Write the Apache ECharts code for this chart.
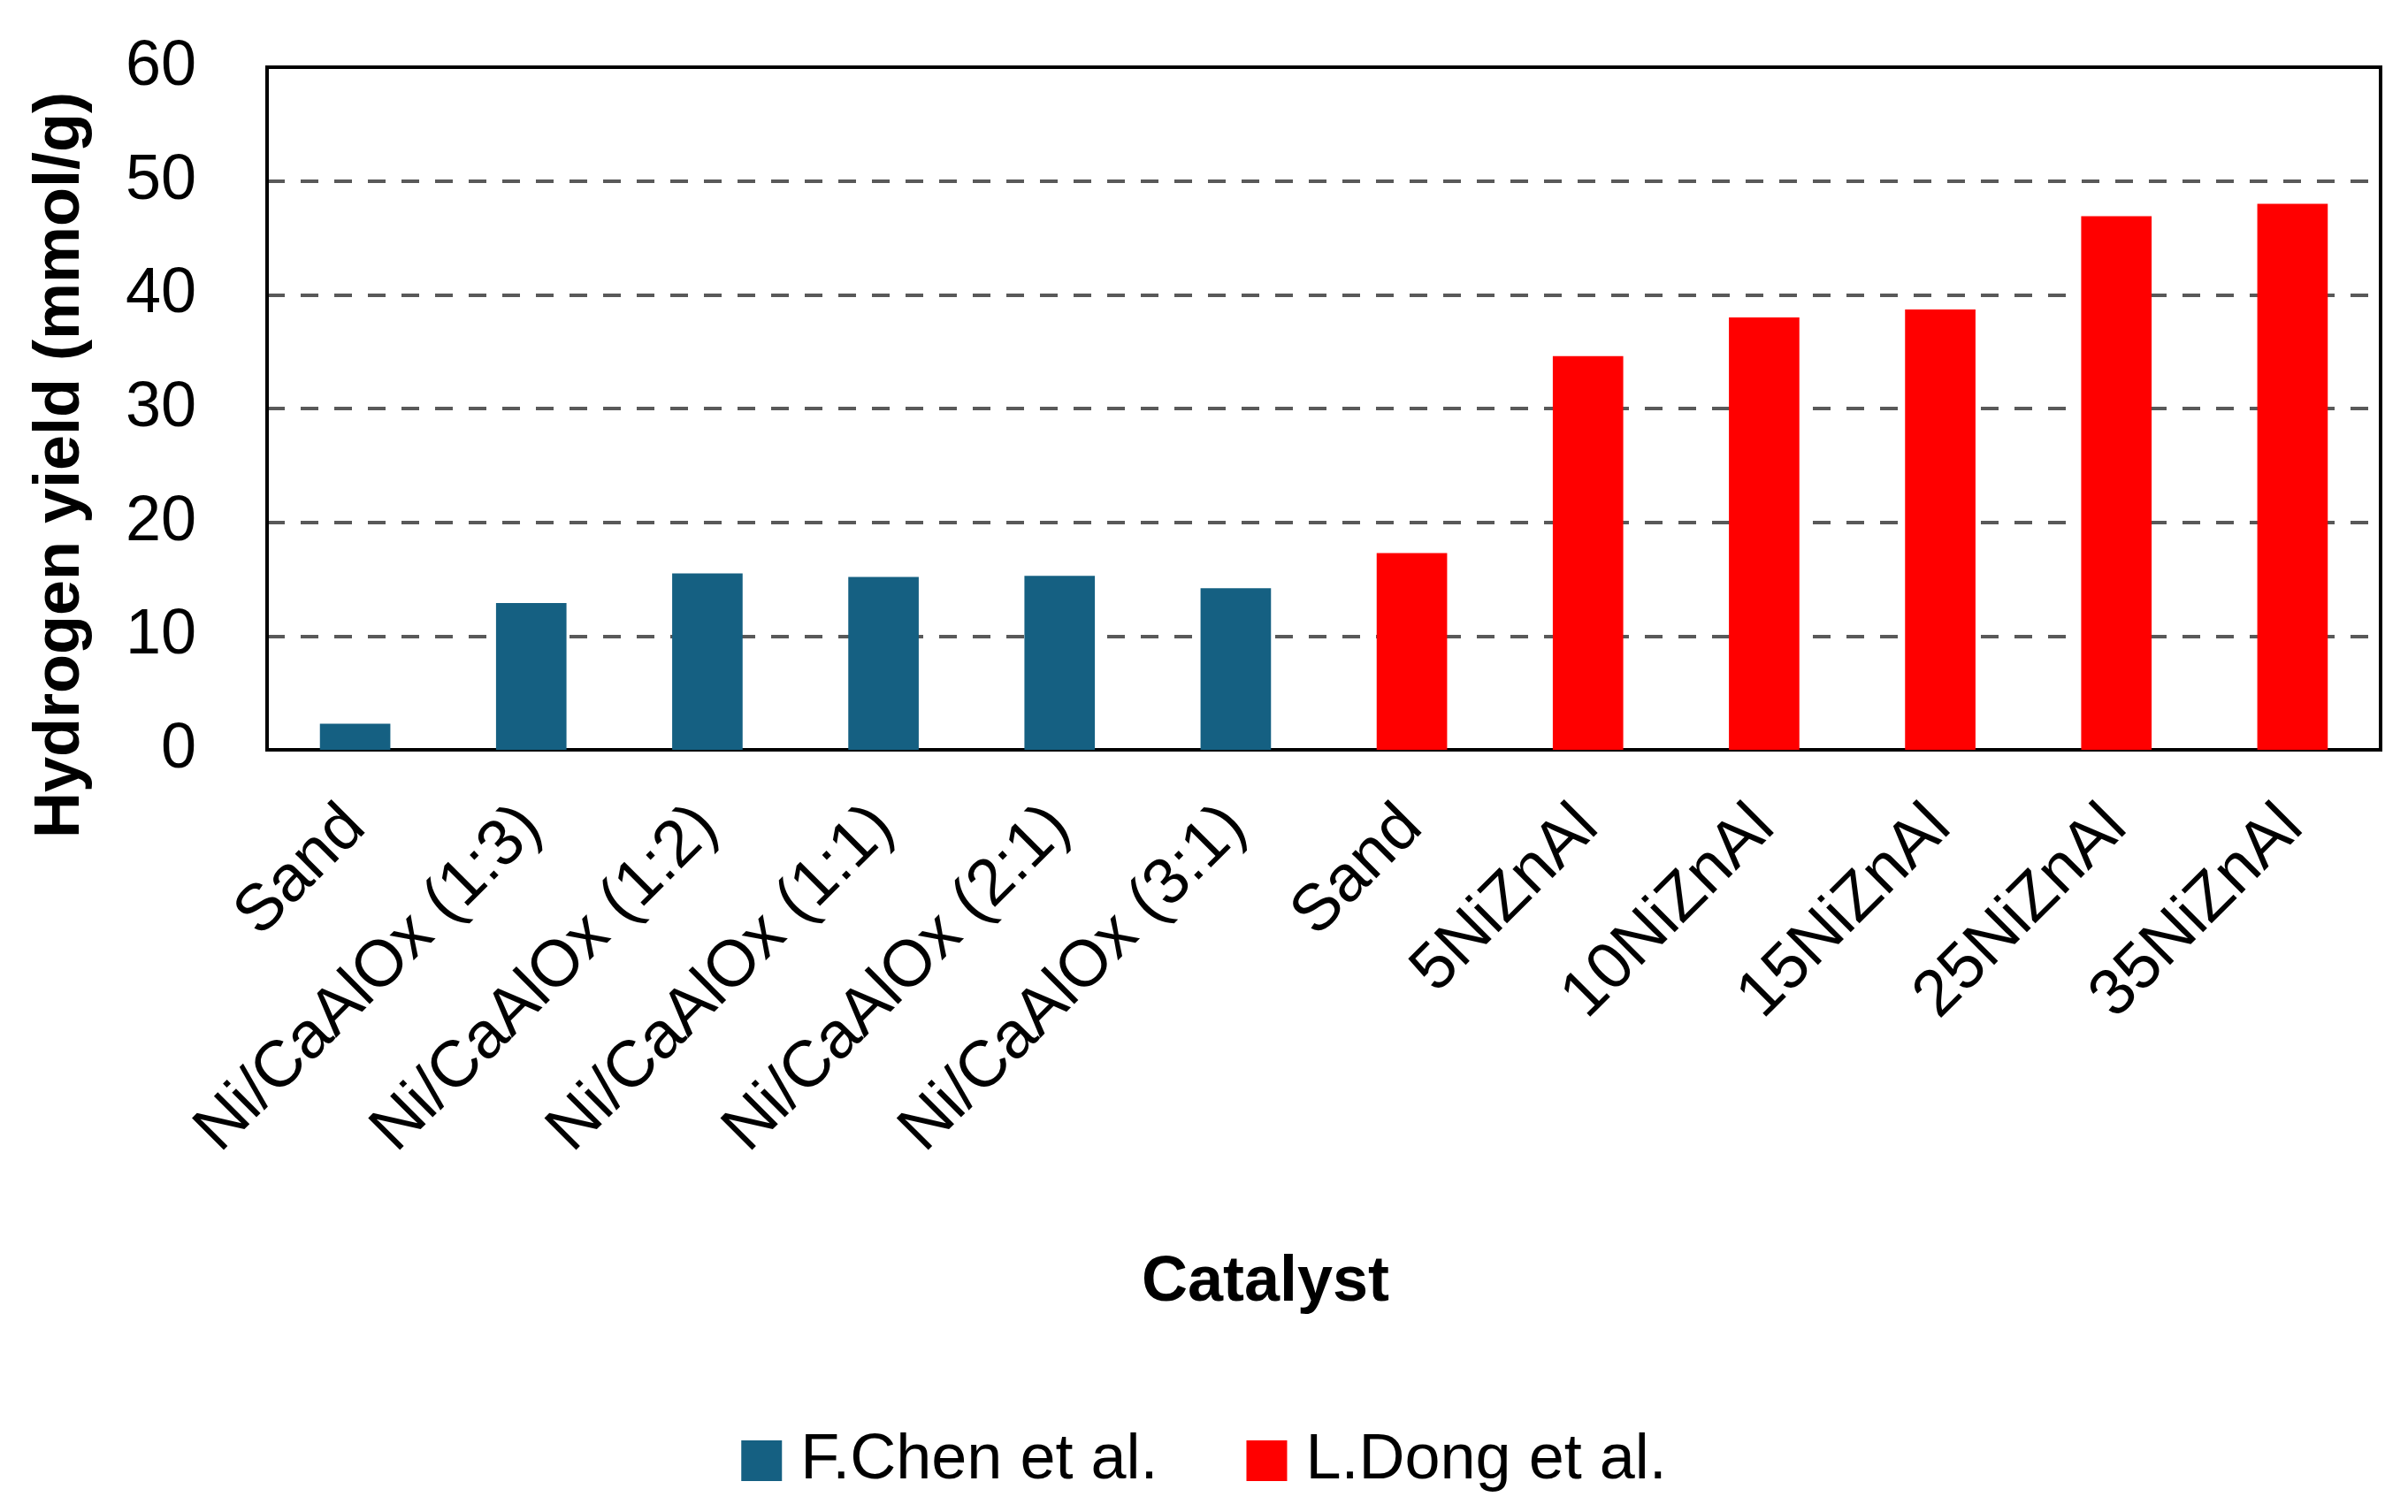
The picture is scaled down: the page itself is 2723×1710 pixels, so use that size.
<!DOCTYPE html>
<html>
<head>
<meta charset="utf-8">
<script src="https://cdn.jsdelivr.net/npm/echarts@6/dist/echarts.min.js"></script>
<style>html,body{margin:0;padding:0;background:#fff}#c{width:2723px;height:1710px}</style>
</head>
<body>
<div id="c"></div>
<script>
const categories = ['Sand','Ni/CaAlOx (1:3)','Ni/CaAlOx (1:2)','Ni/CaAlOx (1:1)','Ni/CaAlOx (2:1)','Ni/CaAlOx (3:1)','Sand','5NiZnAl','10NiZnAl','15NiZnAl','25NiZnAl','35NiZnAl'];
const chenValues = [2.3, 12.9, 15.5, 15.2, 15.3, 14.2, null, null, null, null, null, null];
const dongValues = [null, null, null, null, null, null, 17.3, 34.6, 38.0, 38.7, 46.9, 48.0];
const seriesNames = ['F.Chen et al.', 'L.Dong et al.'];
const yTicks = { min: 0, max: 60, interval: 10 };

const chart = echarts.init(document.getElementById('c'), null, { renderer: 'canvas' });
const font = '"Liberation Sans", Arial, sans-serif';
chart.setOption({
  animation: false,
  backgroundColor: '#ffffff',
  grid: {
    left: 302, right: 31, top: 76, bottom: 862,
    show: true, borderColor: '#000000', borderWidth: 4, backgroundColor: 'transparent'
  },
  legend: {
    data: seriesNames,
    left: 'center',
    top: 1611,
    icon: 'rect',
    itemWidth: 46,
    itemHeight: 46,
    itemGap: 100,
    textStyle: { fontFamily: font, fontSize: 72, color: '#000', padding: [0, 0, 0, 16] }
  },
  xAxis: {
    type: 'category',
    data: categories,
    name: 'Catalyst',
    nameLocation: 'middle',
    nameGap: 567,
    nameTextStyle: { fontFamily: font, fontSize: 72, fontWeight: 'bold', color: '#000', padding: [0, 132, 0, 0] },
    axisLine: { show: true, lineStyle: { color: '#000', width: 4 } },
    axisTick: { show: false },
    axisLabel: { interval: 0, rotate: 45, margin: 76, fontFamily: font, fontSize: 74, color: '#000' },
    splitLine: { show: false }
  },
  yAxis: {
    type: 'value',
    min: yTicks.min, max: yTicks.max, interval: yTicks.interval,
    name: 'Hydrogen yield (mmol/g)',
    nameLocation: 'middle',
    nameGap: 197,
    nameTextStyle: { fontFamily: font, fontSize: 72, fontWeight: 'bold', color: '#000', padding: [0, 128, 0, 0] },
    axisLine: { show: true, lineStyle: { color: '#000', width: 4 } },
    axisTick: { show: false },
    axisLabel: { margin: 80, fontFamily: font, fontSize: 72, color: '#000' },
    splitLine: { show: true, showMinLine: false, showMaxLine: false, lineStyle: { color: '#595959', width: 4, type: [20, 18] } }
  },
  series: [
    { name: seriesNames[0], type: 'bar', stack: 'all', data: chenValues, barWidth: '40%', itemStyle: { color: '#156082' } },
    { name: seriesNames[1], type: 'bar', stack: 'all', data: dongValues, barWidth: '40%', itemStyle: { color: '#FF0000' } }
  ]
});
</script>
</body>
</html>
